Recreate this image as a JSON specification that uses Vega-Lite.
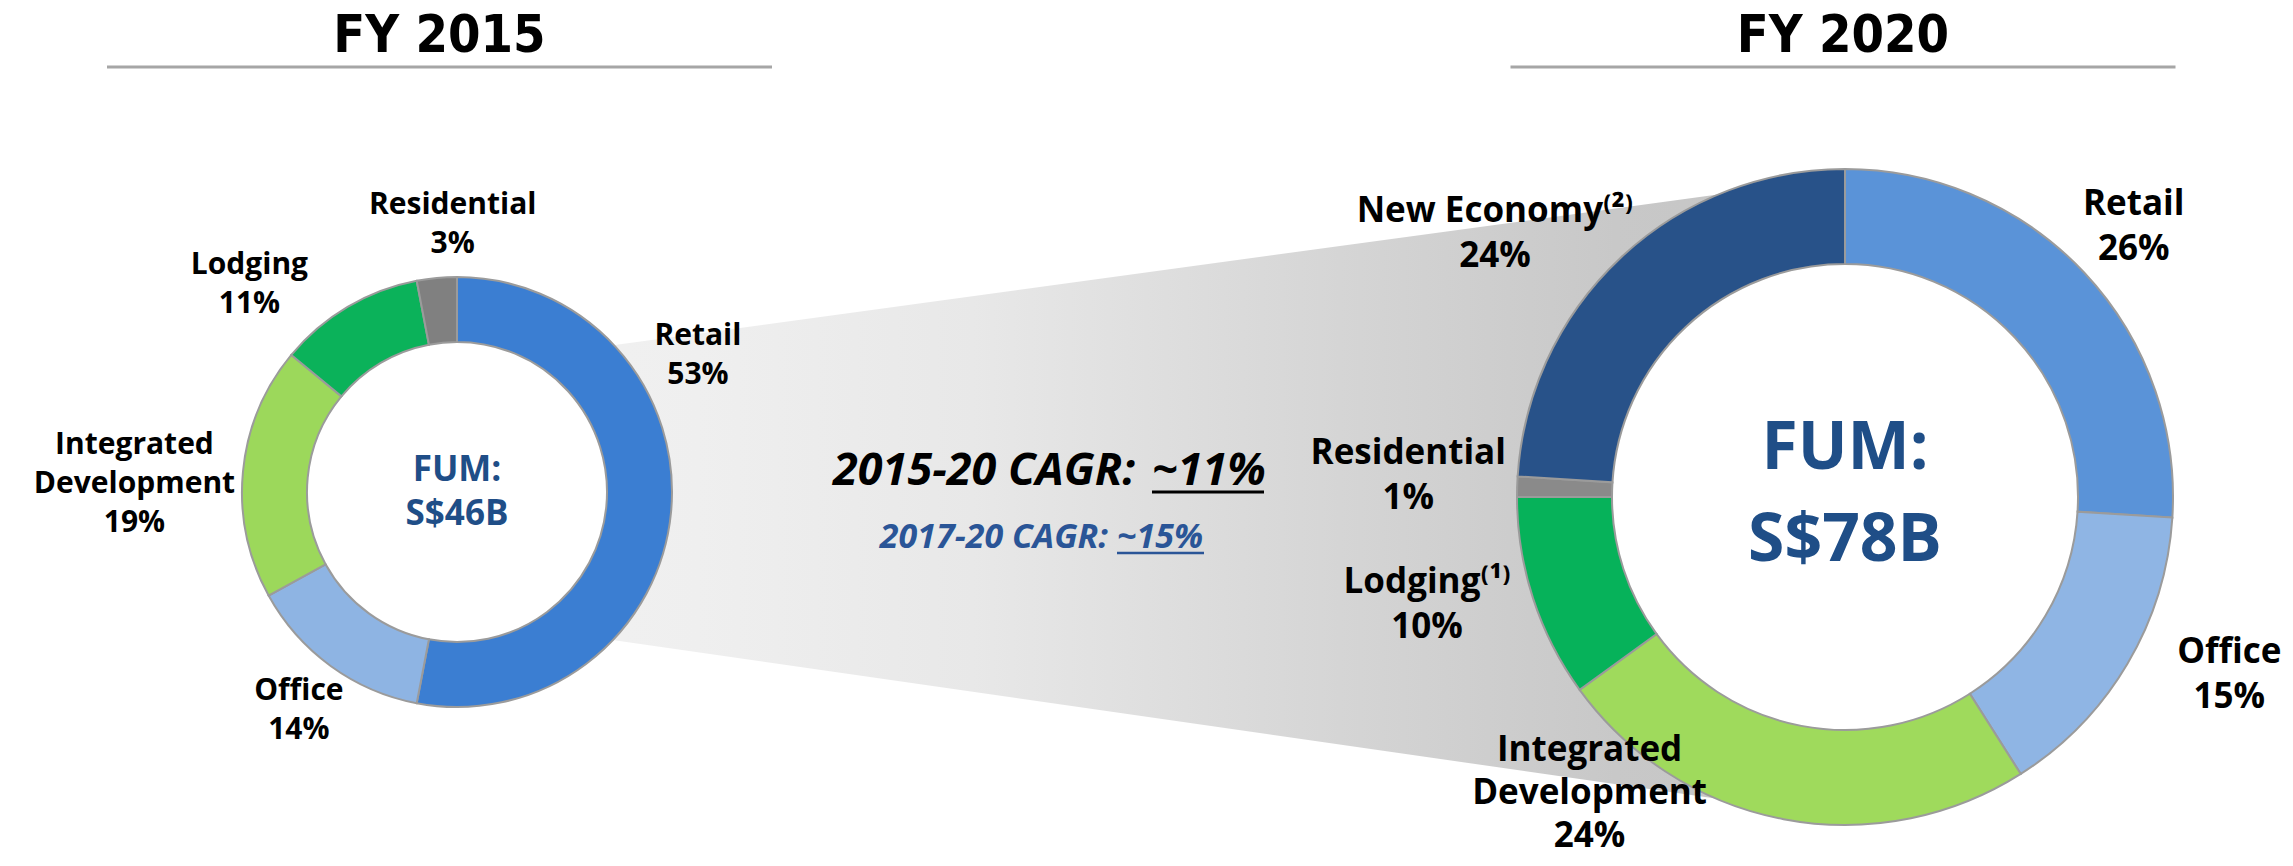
{
  "$schema": "https://vega.github.io/schema/vega-lite/v6.json",
  "width": 2293,
  "height": 866,
  "autosize": {"type": "fit", "contains": "padding"},
  "padding": 0,
  "background": "white",
  "config": {"view": {"stroke": null}},
  "datasets": {
    "mix": [
      {"year": "FY 2015", "category": "Retail", "pct": 53, "rank": 1, "label": "Retail\n53%"},
      {"year": "FY 2015", "category": "Office", "pct": 14, "rank": 2, "label": "Office\n14%"},
      {"year": "FY 2015", "category": "Integrated Development", "pct": 19, "rank": 3, "label": "Integrated\nDevelopment\n19%"},
      {"year": "FY 2015", "category": "Lodging", "pct": 11, "rank": 4, "label": "Lodging\n11%"},
      {"year": "FY 2015", "category": "Residential", "pct": 3, "rank": 5, "label": "Residential\n3%"},
      {"year": "FY 2020", "category": "Retail", "pct": 26, "rank": 1, "label": "Retail\n26%"},
      {"year": "FY 2020", "category": "Office", "pct": 15, "rank": 2, "label": "Office\n15%"},
      {"year": "FY 2020", "category": "Integrated Development", "pct": 24, "rank": 3, "label": "Integrated\nDevelopment\n24%"},
      {"year": "FY 2020", "category": "Lodging", "pct": 10, "rank": 4, "label": "Lodging⁽¹⁾\n10%"},
      {"year": "FY 2020", "category": "Residential", "pct": 1, "rank": 5, "label": "Residential\n1%"},
      {"year": "FY 2020", "category": "New Economy", "pct": 24, "rank": 6, "label": "New Economy⁽²⁾\n24%"}
    ],
    "totals": [
      {"year": "FY 2015", "fum": 46, "fumText": "FUM:\nS$46B"},
      {"year": "FY 2020", "fum": 78, "fumText": "FUM:\nS$78B"}
    ],
    "cagr": [
      {"period": "2015-20", "prefix": "2015-20 CAGR:", "value": "~11%"},
      {"period": "2017-20", "prefix": "2017-20 CAGR:", "value": "~15%"}
    ]
  },
  "resolve": {"scale": {"x": "independent", "y": "independent", "color": "independent", "size": "independent"}},
  "layer": [
    {
      "encoding": {
        "x": {"field": "year", "type": "nominal", "scale": {"type": "point", "domain": ["FY 2015", "FY 2020"], "range": [457, 1845], "padding": 0}, "axis": null},
        "y": {"field": "year", "type": "nominal", "scale": {"type": "point", "domain": ["FY 2015", "FY 2020"], "range": [492, 497], "padding": 0}, "axis": null}
      },
      "resolve": {"scale": {"color": "independent", "size": "independent"}},
      "layer": [
        {
          "data": {"name": "totals"},
          "mark": {
            "type": "trail",
            "filled": true,
            "strokeWidth": 0,
            "fill": {"gradient": "linear", "x1": 0, "y1": 0, "x2": 1, "y2": 0, "stops": [
              {"offset": 0, "color": "#f4f4f4"},
              {"offset": 0.2, "color": "#efefef"},
              {"offset": 0.35, "color": "#e8e8e8"},
              {"offset": 0.55, "color": "#d5d5d5"},
              {"offset": 0.7, "color": "#c8c8c8"},
              {"offset": 1, "color": "#c0c0c0"}
            ]}
          },
          "encoding": {
            "size": {"field": "fum", "type": "quantitative", "scale": {"type": "linear", "domain": [46, 78], "range": [251, 640]}, "legend": null}
          }
        },
        {
          "data": {"name": "totals"},
          "transform": [{"filter": {"field": "year", "equal": "FY 2015"}}],
          "mark": {"type": "arc", "radius": 150, "color": "white"}
        },
        {
          "data": {"name": "totals"},
          "transform": [{"filter": {"field": "year", "equal": "FY 2020"}}],
          "mark": {"type": "arc", "radius": 233, "color": "white"}
        },
        {
          "data": {"name": "mix"},
          "transform": [{"filter": {"field": "year", "equal": "FY 2015"}}],
          "mark": {"type": "arc", "radius": 215, "radius2": 150, "stroke": "#9b9b9b", "strokeWidth": 2},
          "encoding": {
            "theta": {"field": "pct", "type": "quantitative", "stack": true, "scale": {"domain": [0, 100]}},
            "order": {"field": "rank", "type": "quantitative"},
            "color": {"field": "category", "type": "nominal", "legend": null, "scale": {
              "domain": ["Retail", "Office", "Integrated Development", "Lodging", "Residential"],
              "range": ["#3b7ed2", "#8eb4e3", "#9cd85b", "#0bb25a", "#808080"]}}
          }
        },
        {
          "data": {"name": "mix"},
          "transform": [{"filter": {"field": "year", "equal": "FY 2020"}}],
          "mark": {"type": "arc", "radius": 328, "radius2": 233, "stroke": "#9b9b9b", "strokeWidth": 2},
          "encoding": {
            "theta": {"field": "pct", "type": "quantitative", "stack": true, "scale": {"domain": [0, 100]}},
            "order": {"field": "rank", "type": "quantitative"},
            "color": {"field": "category", "type": "nominal", "legend": null, "scale": {
              "domain": ["Retail", "Office", "Integrated Development", "Lodging", "Residential", "New Economy"],
              "range": ["#5a93d8", "#8fb5e4", "#9fda5c", "#06b25a", "#8a8a8a", "#285289"]}}
          }
        },
        {
          "data": {"name": "totals"},
          "transform": [{"filter": {"field": "year", "equal": "FY 2015"}}],
          "mark": {"type": "text", "font": "Open Sans", "fontWeight": "bold", "fontSize": 35, "lineHeight": 44, "lineBreak": "\n", "align": "center", "baseline": "middle", "color": "#1f4e87", "dy": -22},
          "encoding": {"text": {"field": "fumText", "type": "nominal"}}
        },
        {
          "data": {"name": "totals"},
          "transform": [{"filter": {"field": "year", "equal": "FY 2020"}}],
          "mark": {"type": "text", "font": "Open Sans", "fontWeight": "bold", "fontSize": 66, "lineHeight": 92, "lineBreak": "\n", "align": "center", "baseline": "middle", "color": "#1f4e87", "dy": -48},
          "encoding": {"text": {"field": "fumText", "type": "nominal"}}
        },
        {
          "data": {"name": "mix"},
          "transform": [{"filter": {"field": "year", "equal": "FY 2015"}}],
          "encoding": {
            "theta": {"field": "pct", "type": "quantitative", "stack": true, "scale": {"domain": [0, 100]}},
            "order": {"field": "rank", "type": "quantitative"}
          },
          "layer": [
            {
              "mark": {"type": "text", "font": "Open Sans", "fontWeight": "bold", "fontSize": 30, "lineHeight": 39, "lineBreak": "\n", "align": "center", "baseline": "middle", "color": "#000000", "radius": 242, "dy": -179},
              "encoding": {"text": {"condition": {"test": "datum.category === 'Retail'", "field": "label", "type": "nominal"}, "value": ""}}
            },
            {
              "mark": {"type": "text", "font": "Open Sans", "fontWeight": "bold", "fontSize": 30, "lineHeight": 39, "lineBreak": "\n", "align": "center", "baseline": "middle", "color": "#000000", "radius": 269, "dy": -19},
              "encoding": {"text": {"condition": {"test": "datum.category === 'Office'", "field": "label", "type": "nominal"}, "value": ""}}
            },
            {
              "mark": {"type": "text", "font": "Open Sans", "fontWeight": "bold", "fontSize": 30, "lineHeight": 39, "lineBreak": "\n", "align": "center", "baseline": "middle", "color": "#000000", "radius": 324, "dy": -17},
              "encoding": {"text": {"condition": {"test": "datum.category === 'Integrated Development'", "field": "label", "type": "nominal"}, "value": ""}}
            },
            {
              "mark": {"type": "text", "font": "Open Sans", "fontWeight": "bold", "fontSize": 30, "lineHeight": 39, "lineBreak": "\n", "align": "center", "baseline": "middle", "color": "#000000", "radius": 284, "dx": -63, "dy": 17},
              "encoding": {"text": {"condition": {"test": "datum.category === 'Lodging'", "field": "label", "type": "nominal"}, "value": ""}}
            },
            {
              "mark": {"type": "text", "font": "Open Sans", "fontWeight": "bold", "fontSize": 30, "lineHeight": 39, "lineBreak": "\n", "align": "center", "baseline": "middle", "color": "#000000", "radius": 269, "dx": 21, "dy": -19},
              "encoding": {"text": {"condition": {"test": "datum.category === 'Residential'", "field": "label", "type": "nominal"}, "value": ""}}
            }
          ]
        },
        {
          "data": {"name": "mix"},
          "transform": [{"filter": {"field": "year", "equal": "FY 2020"}}],
          "encoding": {
            "theta": {"field": "pct", "type": "quantitative", "stack": true, "scale": {"domain": [0, 100]}},
            "order": {"field": "rank", "type": "quantitative"}
          },
          "layer": [
            {
              "mark": {"type": "text", "font": "Open Sans", "fontWeight": "bold", "fontSize": 35, "lineHeight": 45, "lineBreak": "\n", "align": "center", "baseline": "middle", "color": "#000000", "radius": 396, "dy": -22},
              "encoding": {"text": {"condition": {"test": "datum.category === 'Retail'", "field": "label", "type": "nominal"}, "value": ""}}
            },
            {
              "mark": {"type": "text", "font": "Open Sans", "fontWeight": "bold", "fontSize": 35, "lineHeight": 45, "lineBreak": "\n", "align": "center", "baseline": "middle", "color": "#000000", "radius": 421, "dx": 22, "dy": -59},
              "encoding": {"text": {"condition": {"test": "datum.category === 'Office'", "field": "label", "type": "nominal"}, "value": ""}}
            },
            {
              "mark": {"type": "text", "font": "Open Sans", "fontWeight": "bold", "fontSize": 35, "lineHeight": 43, "lineBreak": "\n", "align": "center", "baseline": "middle", "color": "#000000", "radius": 349, "dx": -190, "dy": -90},
              "encoding": {"text": {"condition": {"test": "datum.category === 'Integrated Development'", "field": "label", "type": "nominal"}, "value": ""}}
            },
            {
              "mark": {"type": "text", "font": "Open Sans", "fontWeight": "bold", "fontSize": 35, "lineHeight": 45, "lineBreak": "\n", "align": "center", "baseline": "middle", "color": "#000000", "radius": 431, "dx": -8, "dy": -48},
              "encoding": {"text": {"condition": {"test": "datum.category === 'Lodging'", "field": "label", "type": "nominal"}, "value": ""}}
            },
            {
              "mark": {"type": "text", "font": "Open Sans", "fontWeight": "bold", "fontSize": 35, "lineHeight": 45, "lineBreak": "\n", "align": "center", "baseline": "middle", "color": "#000000", "radius": 437, "dy": -30},
              "encoding": {"text": {"condition": {"test": "datum.category === 'Residential'", "field": "label", "type": "nominal"}, "value": ""}}
            },
            {
              "mark": {"type": "text", "font": "Open Sans", "fontWeight": "bold", "fontSize": 35, "lineHeight": 45, "lineBreak": "\n", "align": "center", "baseline": "middle", "color": "#000000", "radius": 431, "dx": -55, "dy": 28},
              "encoding": {"text": {"condition": {"test": "datum.category === 'New Economy'", "field": "label", "type": "nominal"}, "value": ""}}
            }
          ]
        }
      ]
    },
    {
      "data": {"name": "totals"},
      "mark": {"type": "text", "font": "Liberation Sans Narrow, DejaVu Sans Condensed, Liberation Sans, sans-serif", "fontWeight": "bold", "fontSize": 52, "align": "center", "baseline": "middle", "color": "#000000"},
      "encoding": {
        "x": {"field": "year", "type": "nominal", "scale": {"type": "point", "domain": ["FY 2015", "FY 2020"], "range": [439.5, 1843], "padding": 0}, "axis": null},
        "y": {"field": "year", "type": "nominal", "scale": {"type": "point", "domain": ["FY 2015", "FY 2020"], "range": [36, 36], "padding": 0}, "axis": null},
        "text": {"field": "year", "type": "nominal"}
      }
    },
    {
      "data": {"name": "totals"},
      "mark": {"type": "tick", "orient": "horizontal", "size": 665, "thickness": 3, "color": "#a6a6a6", "opacity": 1},
      "encoding": {
        "x": {"field": "year", "type": "nominal", "scale": {"type": "point", "domain": ["FY 2015", "FY 2020"], "range": [439.5, 1843], "padding": 0}, "axis": null},
        "y": {"field": "year", "type": "nominal", "scale": {"type": "point", "domain": ["FY 2015", "FY 2020"], "range": [67, 67], "padding": 0}, "axis": null}
      }
    },
    {
      "data": {"name": "cagr"},
      "encoding": {
        "x": {"field": "period", "type": "nominal", "scale": {"type": "point", "domain": ["2015-20", "2017-20"], "range": [1143, 1112], "padding": 0}, "axis": null},
        "y": {"field": "period", "type": "nominal", "scale": {"type": "point", "domain": ["2015-20", "2017-20"], "range": [471, 538], "padding": 0}, "axis": null}
      },
      "layer": [
        {
          "transform": [{"filter": {"field": "period", "equal": "2015-20"}}],
          "mark": {"type": "text", "font": "Open Sans", "fontWeight": "bold", "fontStyle": "italic", "fontSize": 45, "align": "right", "baseline": "middle", "color": "#000000", "dx": -8},
          "encoding": {"text": {"field": "prefix", "type": "nominal"}}
        },
        {
          "transform": [{"filter": {"field": "period", "equal": "2015-20"}}],
          "mark": {"type": "text", "font": "Open Sans", "fontWeight": "bold", "fontStyle": "italic", "fontSize": 45, "align": "left", "baseline": "middle", "color": "#000000", "dx": 9},
          "encoding": {"text": {"field": "value", "type": "nominal"}}
        },
        {
          "transform": [{"filter": {"field": "period", "equal": "2017-20"}}],
          "mark": {"type": "text", "font": "Open Sans", "fontWeight": "bold", "fontStyle": "italic", "fontSize": 34, "align": "right", "baseline": "middle", "color": "#2a5597", "dx": -4},
          "encoding": {"text": {"field": "prefix", "type": "nominal"}}
        },
        {
          "transform": [{"filter": {"field": "period", "equal": "2017-20"}}],
          "mark": {"type": "text", "font": "Open Sans", "fontWeight": "bold", "fontStyle": "italic", "fontSize": 34, "align": "left", "baseline": "middle", "color": "#2a5597", "dx": 5},
          "encoding": {"text": {"field": "value", "type": "nominal"}}
        }
      ]
    },
    {
      "data": {"name": "cagr"},
      "encoding": {
        "x": {"field": "period", "type": "nominal", "scale": {"type": "point", "domain": ["2015-20", "2017-20"], "range": [1208, 1160.5], "padding": 0}, "axis": null},
        "y": {"field": "period", "type": "nominal", "scale": {"type": "point", "domain": ["2015-20", "2017-20"], "range": [492, 553], "padding": 0}, "axis": null}
      },
      "layer": [
        {
          "transform": [{"filter": {"field": "period", "equal": "2015-20"}}],
          "mark": {"type": "tick", "orient": "horizontal", "size": 112, "thickness": 3, "color": "#000000", "opacity": 1}
        },
        {
          "transform": [{"filter": {"field": "period", "equal": "2017-20"}}],
          "mark": {"type": "tick", "orient": "horizontal", "size": 87, "thickness": 2.5, "color": "#2a5597", "opacity": 1}
        }
      ]
    }
  ]
}
